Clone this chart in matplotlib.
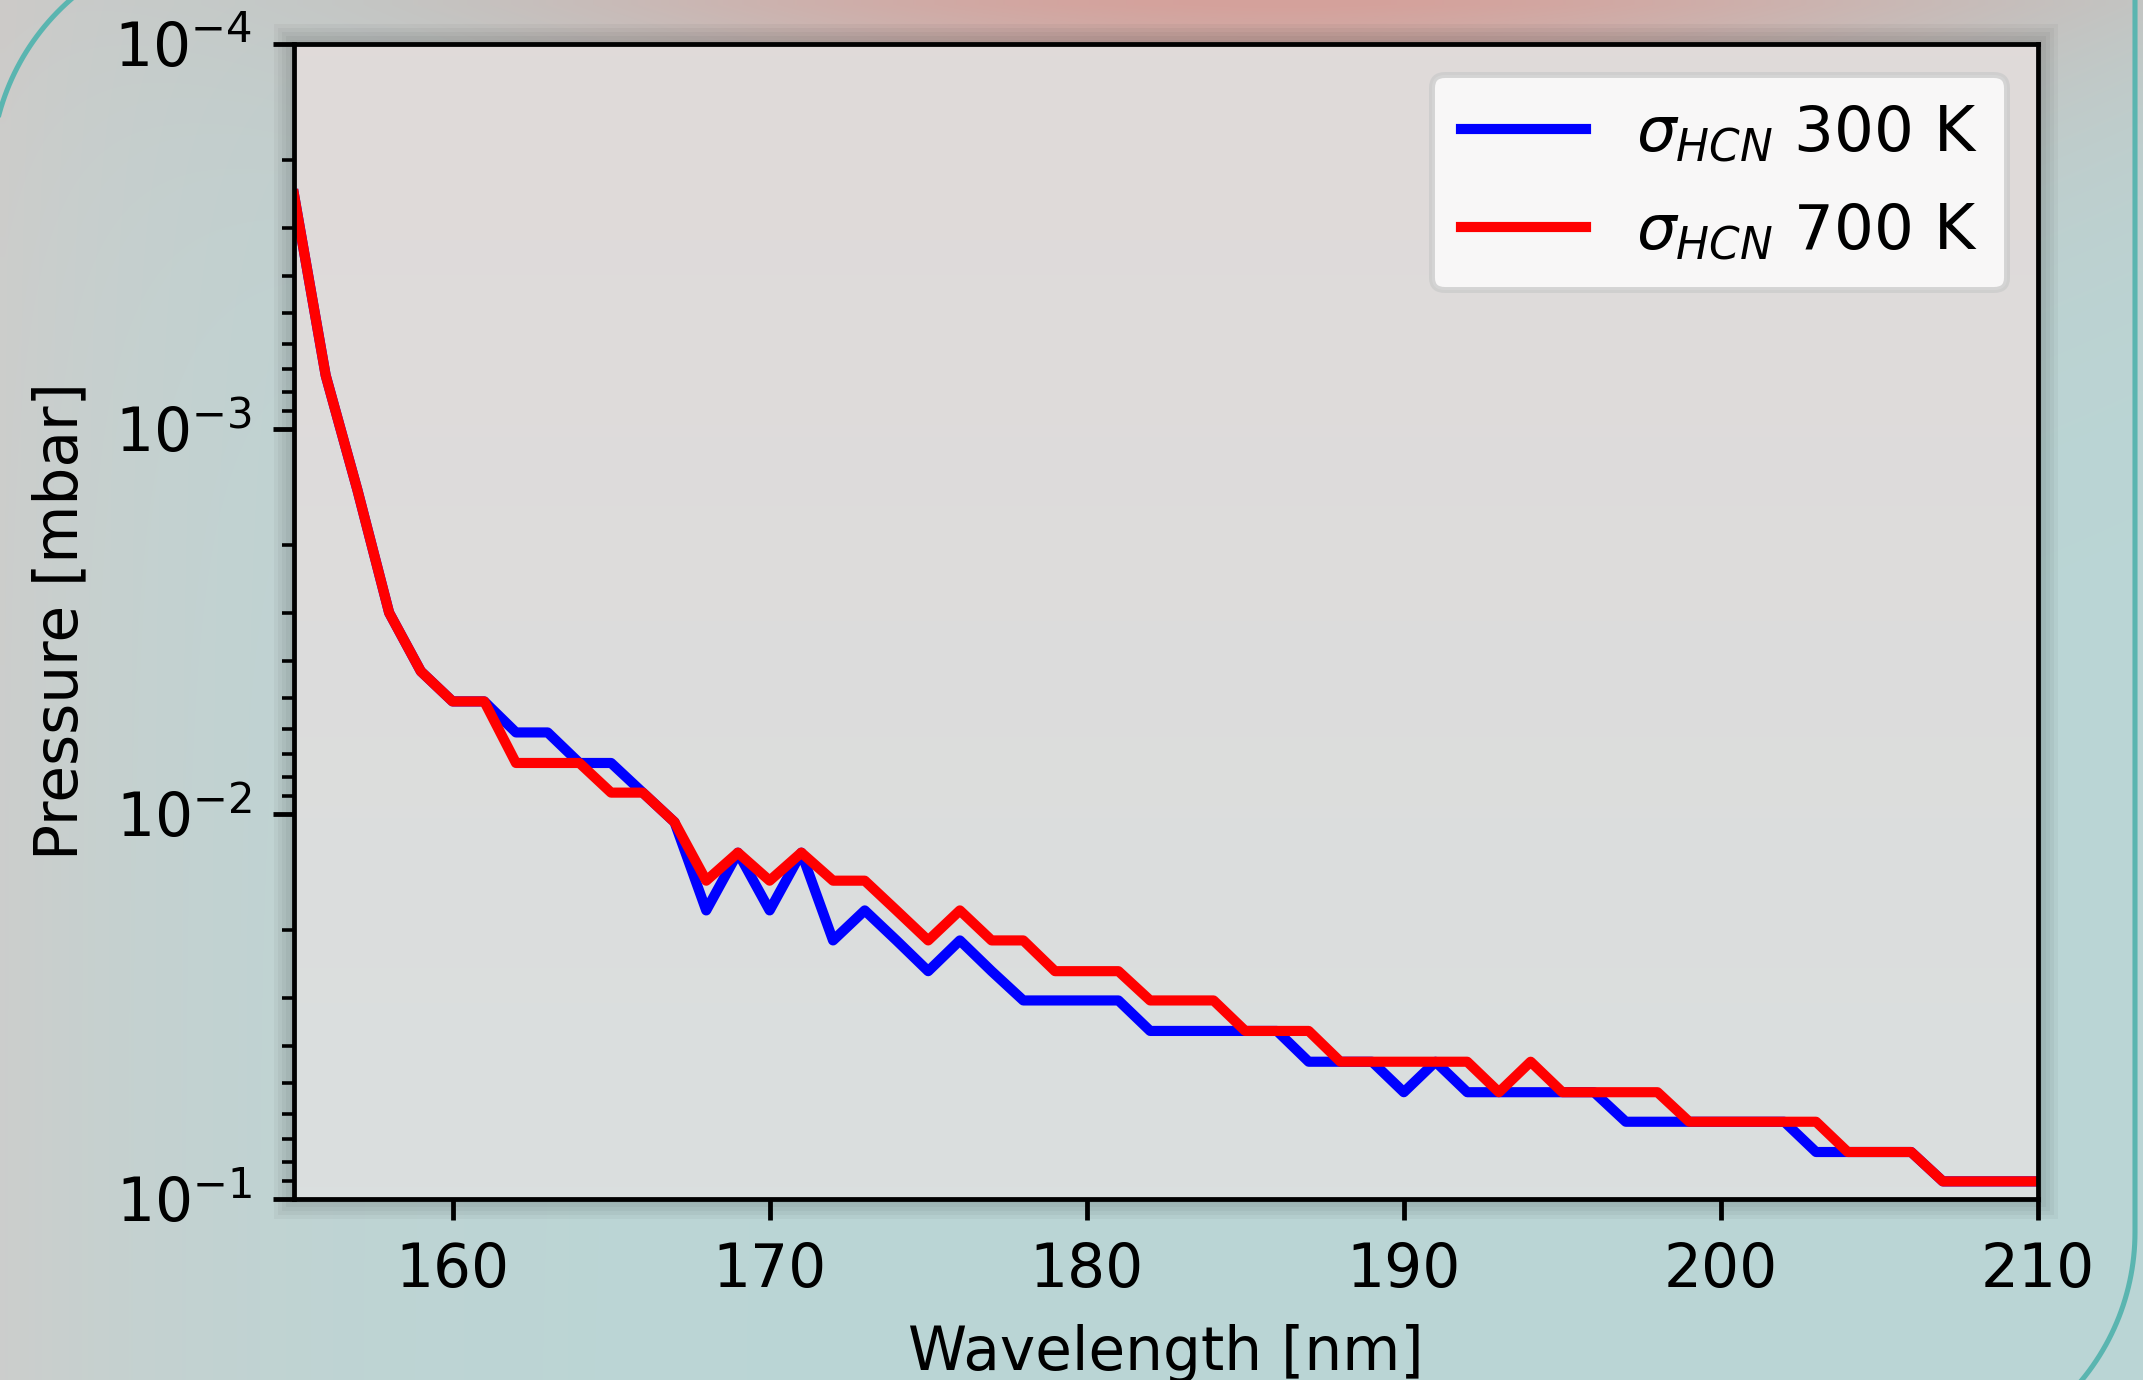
import numpy as np
import matplotlib
matplotlib.use('Agg')
import matplotlib.pyplot as plt
from matplotlib.patches import Rectangle
from matplotlib.lines import Line2D
from matplotlib.transforms import IdentityTransform

# Pressure where optical depth reaches 1, per wavelength

wavelength = list(range(155, 211))

# pressure grid levels (mbar) the curves step between
levels = [5.1e-3, 6.14e-3, 7.37e-3, 8.8e-3, 1.05e-2, 1.26e-2, 1.49e-2, 1.78e-2,
          2.13e-2, 2.56e-2, 3.05e-2, 3.66e-2, 4.4e-2, 5.28e-2, 6.3e-2, 7.55e-2, 9.0e-2]

head = [2.46e-4, 7.26e-4, 1.44e-3, 3.0e-3, 4.26e-3]   # 155-159 nm, both curves

# level index for 160..210 nm
idx_300 = [0, 0, 1, 1, 2, 2, 3, 4, 7, 5,
           7, 5, 8, 7, 8, 9, 8, 9, 10, 10,
           10, 10, 11, 11, 11, 11, 11, 12, 12, 12,
           13, 12, 13, 13, 13, 13, 13, 14, 14, 14,
           14, 14, 14, 15, 15, 15, 15, 16, 16, 16, 16]
idx_700 = [0, 0, 2, 2, 2, 3, 3, 4, 6, 5,
           6, 5, 6, 6, 7, 8, 7, 8, 8, 9,
           9, 9, 10, 10, 10, 11, 11, 11, 12, 12,
           12, 12, 12, 13, 12, 13, 13, 13, 13, 14,
           14, 14, 14, 14, 15, 15, 15, 16, 16, 16, 16]

p_300 = head + [levels[i] for i in idx_300]
p_700 = head + [levels[i] for i in idx_700]

W, H = 2143, 1380
dpi = 430
fig = plt.figure(figsize=(W / dpi, H / dpi), dpi=dpi)

# poster background behind the plot
bg = fig.add_axes([0, 0, 1, 1], zorder=-3)
yy, xx = np.mgrid[0:1:140j, 0:1:220j]
teal = np.array([186, 214, 214]) / 255
gray = np.array([206, 205, 203]) / 255
pink = np.array([213, 161, 155]) / 255
w_gray = (0.9 * np.exp(-xx / 0.12))[..., None]
w_pink = (np.exp(-yy / 0.13) * np.exp(-((xx - 0.6) / 0.38) ** 2))[..., None]
img = teal * (1 - w_gray) + gray * w_gray
img = img * (1 - w_pink) + pink * w_pink
bg.imshow(img, aspect='auto', extent=[0, 1, 0, 1], interpolation='bilinear')
bg.set_axis_off()

pos = [294 / W, 1 - 1199 / H, (2038 - 294) / W, (1199 - 44) / H]

# soft shadow round the plot image
for k in range(1, 6):
    pad = 4 * k
    fig.add_artist(Rectangle((294 - pad, H - 1199 - pad), 1744 + 2 * pad, 1155 + 2 * pad,
                             transform=IdentityTransform(), facecolor='black',
                             alpha=0.035, edgecolor='none', zorder=-2))

# plot area with a faint vertical tint
fa = fig.add_axes(pos, zorder=-1)
tint = np.linspace(0, 1, 100)[:, None, None]
top_c = np.array([224, 218, 217]) / 255
bot_c = np.array([218, 223, 223]) / 255
fa.imshow(top_c * (1 - tint) + bot_c * tint, aspect='auto', extent=[0, 1, 0, 1])
fa.set_axis_off()

# rounded teal frame of the poster panel (pixel coords, y down)
r = 233
t = np.linspace(np.pi, 1.5 * np.pi, 60)
arc1_x = 224 + r * np.cos(t)
arc1_y = 175 + r * np.sin(t)
t2 = np.linspace(0, 0.5 * np.pi, 60)
arc2_x = np.concatenate([[2135], 1902 + r * np.cos(t2)])
arc2_y = np.concatenate([[-10], 1232 + r * np.sin(t2)])
for px, py in [(arc1_x, arc1_y), (arc2_x, arc2_y)]:
    fig.add_artist(Line2D(px / W, 1 - py / H, transform=fig.transFigure,
                          color='#5ab5b0', lw=0.85, zorder=5))

ax = fig.add_axes(pos, zorder=1)
ax.set_facecolor('none')
ax.plot(wavelength, p_300, c='blue', lw=1.7, label=r'$\sigma_{HCN}$ 300 K')
ax.plot(wavelength, p_700, c='red', lw=1.7, label=r'$\sigma_{HCN}$ 700 K')
ax.set_yscale('log')
ax.set_ylim(1e-1, 1e-4)
ax.set_xlim(155, 210)
ax.set_xticks([160, 170, 180, 190, 200, 210])
ax.set_xlabel('Wavelength [nm]')
ax.set_ylabel('Pressure [mbar]')
ax.legend(loc='upper right', fontsize=10.5, labelspacing=0.6, borderpad=0.45)

fig.savefig('out.png', dpi=dpi)
